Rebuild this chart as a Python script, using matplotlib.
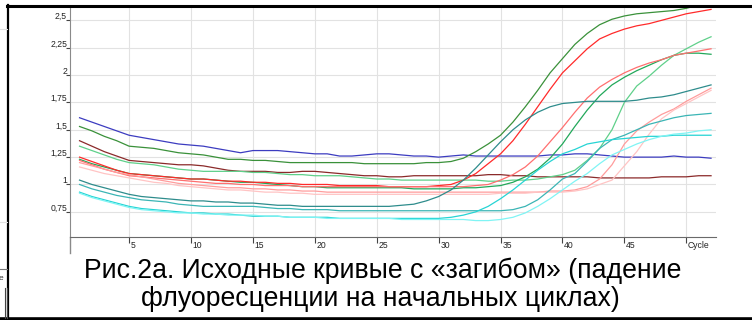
import numpy as np
import matplotlib.pyplot as plt
from matplotlib.lines import Line2D

# fluorescence curves, cycles 1..52
cycles = np.arange(1, 53)

blue = [1.61, 1.57, 1.53, 1.49, 1.45, 1.43, 1.41, 1.39, 1.37, 1.36,
        1.35, 1.33, 1.31, 1.29, 1.31, 1.31, 1.31, 1.30, 1.29, 1.28,
        1.28, 1.26, 1.26, 1.27, 1.28, 1.28, 1.27, 1.26, 1.26, 1.25,
        1.26, 1.27, 1.26, 1.26, 1.26, 1.26, 1.26, 1.26, 1.27, 1.27,
        1.28, 1.28, 1.27, 1.26, 1.25, 1.25, 1.25, 1.25, 1.26, 1.25,
        1.25, 1.24]
dark_green = [1.53, 1.49, 1.44, 1.40, 1.35, 1.34, 1.33, 1.31, 1.29, 1.28,
              1.27, 1.25, 1.23, 1.23, 1.22, 1.22, 1.21, 1.20, 1.20, 1.20,
              1.20, 1.20, 1.20, 1.19, 1.19, 1.19, 1.19, 1.19, 1.20, 1.20,
              1.21, 1.24, 1.30, 1.37, 1.45, 1.57, 1.71, 1.86, 2.02, 2.15,
              2.28, 2.38, 2.46, 2.51, 2.54, 2.56, 2.57, 2.58, 2.59, 2.61,
              2.64, 2.67]
brown = [1.40, 1.35, 1.30, 1.26, 1.22, 1.21, 1.20, 1.19, 1.18, 1.18,
         1.17, 1.15, 1.13, 1.12, 1.12, 1.12, 1.11, 1.11, 1.12, 1.12,
         1.11, 1.10, 1.09, 1.08, 1.08, 1.07, 1.07, 1.08, 1.08, 1.08,
         1.08, 1.08, 1.08, 1.09, 1.09, 1.08, 1.08, 1.07, 1.07, 1.07,
         1.07, 1.07, 1.06, 1.06, 1.06, 1.06, 1.06, 1.07, 1.07, 1.07,
         1.08, 1.08]
light_green = [1.35, 1.31, 1.27, 1.23, 1.20, 1.19, 1.18, 1.16, 1.14, 1.13,
               1.12, 1.12, 1.12, 1.12, 1.11, 1.11, 1.10, 1.09, 1.09, 1.08,
               1.08, 1.08, 1.07, 1.06, 1.05, 1.05, 1.04, 1.04, 1.04, 1.04,
               1.04, 1.04, 1.04, 1.03, 1.03, 1.04, 1.04, 1.05, 1.07, 1.09,
               1.13, 1.22, 1.33, 1.50, 1.75, 1.90, 1.99, 2.09, 2.18, 2.24,
               2.30, 2.35]
green = [1.23, 1.19, 1.16, 1.13, 1.10, 1.09, 1.08, 1.07, 1.06, 1.05,
         1.05, 1.04, 1.03, 1.02, 1.02, 1.01, 1.00, 0.99, 0.98, 0.98,
         0.97, 0.97, 0.97, 0.97, 0.97, 0.97, 0.97, 0.96, 0.96, 0.96,
         0.96, 0.97, 0.97, 0.98, 0.99, 1.02, 1.07, 1.14, 1.24, 1.37,
         1.53, 1.68, 1.81, 1.91, 1.98, 2.04, 2.09, 2.14, 2.18, 2.20,
         2.20, 2.19]
red = [1.25, 1.21, 1.17, 1.13, 1.10, 1.09, 1.08, 1.07, 1.06, 1.05,
       1.05, 1.04, 1.03, 1.03, 1.02, 1.02, 1.01, 1.01, 1.00, 1.00,
       1.00, 0.99, 0.99, 0.99, 0.99, 0.98, 0.98, 0.98, 0.98, 0.99,
       1.00, 1.04, 1.10, 1.19, 1.28, 1.40, 1.55, 1.71, 1.87, 2.02,
       2.13, 2.24, 2.33, 2.38, 2.42, 2.45, 2.47, 2.50, 2.53, 2.56,
       2.58, 2.60]
salmon = [1.22, 1.18, 1.14, 1.11, 1.08, 1.07, 1.06, 1.05, 1.04, 1.03,
          1.02, 1.01, 1.01, 1.00, 1.00, 0.99, 0.99, 0.99, 0.98, 0.98,
          0.98, 0.98, 0.98, 0.98, 0.98, 0.98, 0.98, 0.98, 0.98, 0.98,
          0.98, 0.98, 0.99, 1.00, 1.04, 1.09, 1.16, 1.26, 1.39, 1.52,
          1.66, 1.79, 1.89, 1.96, 2.02, 2.07, 2.11, 2.14, 2.18, 2.20,
          2.22, 2.24]
pink = [1.20, 1.17, 1.14, 1.11, 1.09, 1.07, 1.05, 1.03, 1.01, 1.00,
        0.99, 0.98, 0.97, 0.97, 0.96, 0.96, 0.95, 0.95, 0.94, 0.94,
        0.93, 0.93, 0.93, 0.93, 0.93, 0.93, 0.93, 0.93, 0.93, 0.93,
        0.93, 0.93, 0.93, 0.93, 0.93, 0.93, 0.93, 0.93, 0.94, 0.94,
        0.95, 0.98, 1.05, 1.18, 1.37, 1.49, 1.57, 1.64, 1.69, 1.76,
        1.82, 1.88]
light_pink = [1.16, 1.13, 1.10, 1.08, 1.06, 1.04, 1.02, 1.01, 0.99, 0.98,
              0.97, 0.96, 0.95, 0.95, 0.94, 0.93, 0.93, 0.92, 0.92, 0.91,
              0.91, 0.91, 0.91, 0.91, 0.91, 0.91, 0.91, 0.91, 0.91, 0.91,
              0.91, 0.91, 0.91, 0.91, 0.92, 0.92, 0.92, 0.93, 0.93, 0.93,
              0.94, 0.96, 1.00, 1.04, 1.17, 1.30, 1.46, 1.60, 1.68, 1.74,
              1.80, 1.86]
teal = [1.04, 1.00, 0.97, 0.94, 0.91, 0.89, 0.88, 0.87, 0.86, 0.85,
        0.85, 0.84, 0.84, 0.83, 0.83, 0.82, 0.81, 0.81, 0.80, 0.80,
        0.80, 0.80, 0.80, 0.80, 0.80, 0.80, 0.81, 0.82, 0.85, 0.89,
        0.95, 1.04, 1.15, 1.27, 1.39, 1.50, 1.59, 1.66, 1.71, 1.74,
        1.75, 1.76, 1.76, 1.76, 1.76, 1.77, 1.79, 1.80, 1.82, 1.85,
        1.88, 1.91]
teal_light = [1.00, 0.96, 0.93, 0.90, 0.88, 0.86, 0.85, 0.84, 0.82, 0.81,
              0.80, 0.80, 0.80, 0.80, 0.80, 0.79, 0.78, 0.78, 0.77, 0.77,
              0.77, 0.76, 0.76, 0.76, 0.76, 0.76, 0.76, 0.76, 0.76, 0.76,
              0.76, 0.76, 0.76, 0.76, 0.76, 0.77, 0.80, 0.86, 0.95, 1.05,
              1.10, 1.21, 1.33, 1.41, 1.45, 1.50, 1.55, 1.58, 1.61, 1.63,
              1.64, 1.65]
cyan = [0.93, 0.89, 0.86, 0.83, 0.80, 0.78, 0.77, 0.76, 0.75, 0.74,
        0.74, 0.73, 0.73, 0.72, 0.71, 0.71, 0.71, 0.70, 0.70, 0.70,
        0.70, 0.69, 0.69, 0.69, 0.69, 0.69, 0.69, 0.69, 0.69, 0.69,
        0.70, 0.72, 0.75, 0.80, 0.87, 0.95, 1.04, 1.13, 1.21, 1.28,
        1.32, 1.37, 1.39, 1.41, 1.42, 1.43, 1.44, 1.44, 1.45, 1.45,
        1.45, 1.45]
light_cyan = [0.92, 0.88, 0.85, 0.82, 0.79, 0.77, 0.76, 0.75, 0.74, 0.74,
              0.73, 0.73, 0.72, 0.72, 0.72, 0.71, 0.71, 0.70, 0.70, 0.70,
              0.69, 0.69, 0.69, 0.69, 0.69, 0.69, 0.68, 0.68, 0.68, 0.68,
              0.68, 0.68, 0.67, 0.67, 0.68, 0.70, 0.74, 0.80, 0.87, 0.95,
              1.03, 1.10, 1.19, 1.27, 1.32, 1.37, 1.41, 1.44, 1.46, 1.47,
              1.49, 1.50]

series = [blue, dark_green, brown, light_green, green, red, salmon,
          pink, light_pink, teal, teal_light, cyan, light_cyan]
colors = ['#3c3cc0', '#3a913a', '#8b2a2a', '#5fd08a', '#22a85a', '#ff2a2a', '#ff6f6f',
          '#ff9c9c', '#ffc4c4', '#2e8c8c', '#3bb5b5', '#26d4d4', '#80f4f4']

x_ticks = [5, 10, 15, 20, 25, 30, 35, 40, 45, 50]
x_labels = ['5', '10', '15', '20', '25', '30', '35', '40', '45', 'Cycle']
y_ticks = [0.75, 1.0, 1.25, 1.5, 1.75, 2.0, 2.25, 2.5]
y_labels = ['0,75', '1', '1,25', '1,5', '1,75', '2', '2,25', '2,5']

caption1 = 'Рис.2а. Исходные кривые с «загибом» (падение'
caption2 = 'флуоресценции на начальных циклах)'

W, H = 752, 320
fig = plt.figure(figsize=(W / 100, H / 100), dpi=100)
ax = fig.add_axes([70 / W, 1 - 237 / H, 646 / W, 230 / H])

for vals, col in zip(series, colors):
    ax.plot(cycles, vals, color=col, lw=0.9)

ax.set_xlim(0.23, 52.4)
ax.set_ylim(0.52, 2.622)
ax.set_xticks(x_ticks)
ax.set_yticks(y_ticks)
ax.set_xticklabels([])
ax.set_yticklabels([])
ax.grid(True, color='#e2e2e2', lw=0.8)
ax.set_axisbelow(True)
for s in ['top', 'right']:
    ax.spines[s].set_visible(False)
ax.spines['left'].set_color('#8a8a8a')
ax.spines['bottom'].set_color('#6a6a6a')
ax.tick_params(axis='x', length=4, width=0.8, color='#444444', direction='out')
ax.tick_params(axis='y', length=2.6, width=0.8, color='#444444', direction='out')

tick_font = dict(fontsize=6.2, color='#222222', family='Liberation Sans')
for t, lbl in zip(x_ticks, x_labels):
    ax.annotate(lbl, xy=(t, 0), xycoords=('data', 'axes fraction'),
                xytext=(1.3, -2.8), textcoords='offset points',
                ha='left', va='top', **tick_font)
for t, lbl in zip(y_ticks, y_labels):
    ax.annotate(lbl, xy=(0, t), xycoords=('axes fraction', 'data'),
                xytext=(-2.2, 1.0), textcoords='offset points',
                ha='right', va='baseline', **tick_font)

# y axis runs a little below the x axis
ax.add_line(Line2D([0, 0], [0, -0.068], transform=ax.transAxes,
                   color='#8a8a8a', lw=1, clip_on=False))


def px_line(x0, y0, x1, y1, **kw):
    fig.add_artist(Line2D([x0 / W, x1 / W], [1 - y0 / H, 1 - y1 / H],
                          transform=fig.transFigure, **kw))


# frame of the scanned figure
px_line(7, 6, W, 6, color='black', lw=2.2)
px_line(8, 5, 8, H, color='black', lw=1.6)
px_line(0, 318.5, W, 318.5, color='black', lw=2.6)
# bits of the neighbouring window on the left
px_line(0, 29, 7, 29, color='#e0e0e0', lw=0.8)
px_line(0, 222, 7, 222, color='#e0e0e0', lw=0.8)
px_line(0, 269, 7, 269, color='#777777', lw=0.8)
px_line(5, 288, 5, 318, color='#444444', lw=0.8)
px_line(6.8, 288, 6.8, 318, color='#444444', lw=0.8)
fig.text(-1 / W, 1 - 280 / H, 'e', fontsize=6, color='#333333', family='Liberation Sans')

cap_font = dict(fontsize=19.2, color='black', family='Liberation Sans', ha='center', va='baseline')
fig.text(383 / W, 1 - 277.5 / H, caption1, **cap_font)
fig.text(380 / W, 1 - 306.5 / H, caption2, **cap_font)

fig.savefig('out.png', dpi=100)
